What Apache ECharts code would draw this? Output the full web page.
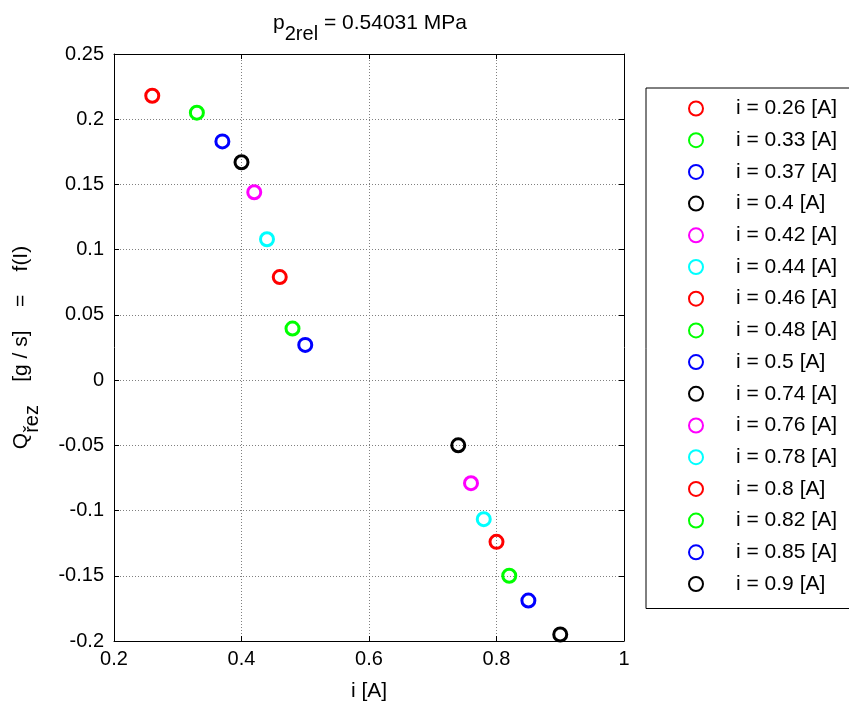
<!DOCTYPE html>
<html>
<head>
<meta charset="utf-8">
<script src="https://cdn.jsdelivr.net/npm/echarts@6/dist/echarts.min.js"></script>
<style>
  html, body { margin: 0; padding: 0; background: #fff; }
  #chart { width: 849px; height: 704px; }
</style>
</head>
<body>
<div id="chart"></div>
<script>
  // current i [A] of each measurement and the resulting flow Q [g/s]
  const currents = [0.26, 0.33, 0.37, 0.4, 0.42, 0.44, 0.46, 0.48, 0.5, 0.74, 0.76, 0.78, 0.8, 0.82, 0.85, 0.9];
  const flows = [0.218, 0.205, 0.183, 0.167, 0.144, 0.108, 0.079, 0.0395, 0.027, -0.05, -0.079, -0.1066, -0.124, -0.15, -0.169, -0.195];
  const palette = ['#ff0000', '#00ff00', '#0000ff', '#000000', '#ff00ff', '#00ffff'];
  const xTicks = [0.2, 0.4, 0.6, 0.8, 1];
  const yTicks = [-0.2, -0.15, -0.1, -0.05, 0, 0.05, 0.1, 0.15, 0.2, 0.25];

  const font = "'Liberation Sans', Arial, sans-serif";
  const fmt = v => String(+v.toFixed(2));

  const chart = echarts.init(document.getElementById('chart'));

  const series = currents.map((c, k) => ({
    name: 'i = ' + c + ' [A]',
    type: 'scatter',
    symbol: 'circle',
    symbolSize: 13,
    data: [[c, flows[k]]],
    itemStyle: { color: 'rgba(255,255,255,0)', borderColor: palette[k % palette.length], borderWidth: 3, opacity: 1 },
    emphasis: { disabled: true }
  }));

  const rich = {
    a: { fontSize: 21, color: '#000', fontFamily: font, lineHeight: 26, verticalAlign: 'top' },
    sub: { fontSize: 20, color: '#000', fontFamily: font, lineHeight: 31, verticalAlign: 'bottom' }
  };

  const tickAxis = {
    axisLine: { show: true, onZero: false, lineStyle: { color: '#000', width: 1 } },
    axisTick: { show: true, inside: true, length: 5, lineStyle: { color: '#000' } },
    splitLine: { show: false },
    axisLabel: { show: false }
  };

  chart.setOption({
    animation: false,
    textStyle: { fontFamily: font },
    title: {
      text: '{a|p}{sub|2rel}{a| = 0.54031 MPa}',
      left: 365, top: 8, textAlign: 'center',
      textStyle: { fontWeight: 'normal', rich: rich }
    },
    grid: { left: 114, top: 54, width: 510, height: 587, show: false, outerBoundsMode: 'none', containLabel: false },
    legend: {
      orient: 'vertical',
      left: 646, top: 88,
      padding: [10, 60, 14, 42],
      itemWidth: 14, itemHeight: 14, itemGap: 10.7,
      borderColor: '#000', borderWidth: 1,
      textStyle: { fontSize: 21, lineHeight: 20, color: '#000', fontFamily: font, padding: [0, 0, 0, 28] },
      data: series.map(s => s.name)
    },
    xAxis: [{
      type: 'value', min: 0.2, max: 1, interval: 0.2,
      name: 'i [A]', nameLocation: 'middle', nameGap: 40,
      nameTextStyle: { fontSize: 21, color: '#000' },
      axisLine: { show: true, onZero: false, lineStyle: { color: '#000' } },
      axisTick: { inside: true, length: 5, lineStyle: { color: '#000' } },
      axisLabel: { fontSize: 20, color: '#000', margin: 8, formatter: fmt, customValues: xTicks },
      splitLine: { show: true, lineStyle: { color: '#808080', type: [1, 2], width: 1 } }
    }, Object.assign({ type: 'value', min: 0.2, max: 1, interval: 0.2, position: 'top' }, tickAxis)],
    yAxis: [{
      type: 'value', min: -0.2, max: 0.25, interval: 0.05,
      name: '{a|Q}{sub|řez}{a|    [g / s]    =    f(I)}',
      nameLocation: 'middle', nameGap: 72, nameRotate: 90,
      nameTextStyle: { rich: rich },
      axisLine: { show: true, onZero: false, lineStyle: { color: '#000' } },
      axisTick: { inside: true, length: 5, lineStyle: { color: '#000' } },
      axisLabel: { fontSize: 20, color: '#000', margin: 10, formatter: fmt, customValues: yTicks },
      splitLine: { show: true, lineStyle: { color: '#808080', type: [1, 2], width: 1 } }
    }, Object.assign({ type: 'value', min: -0.2, max: 0.25, interval: 0.05, position: 'right' }, tickAxis)],
    series: series
  });
</script>
</body>
</html>
